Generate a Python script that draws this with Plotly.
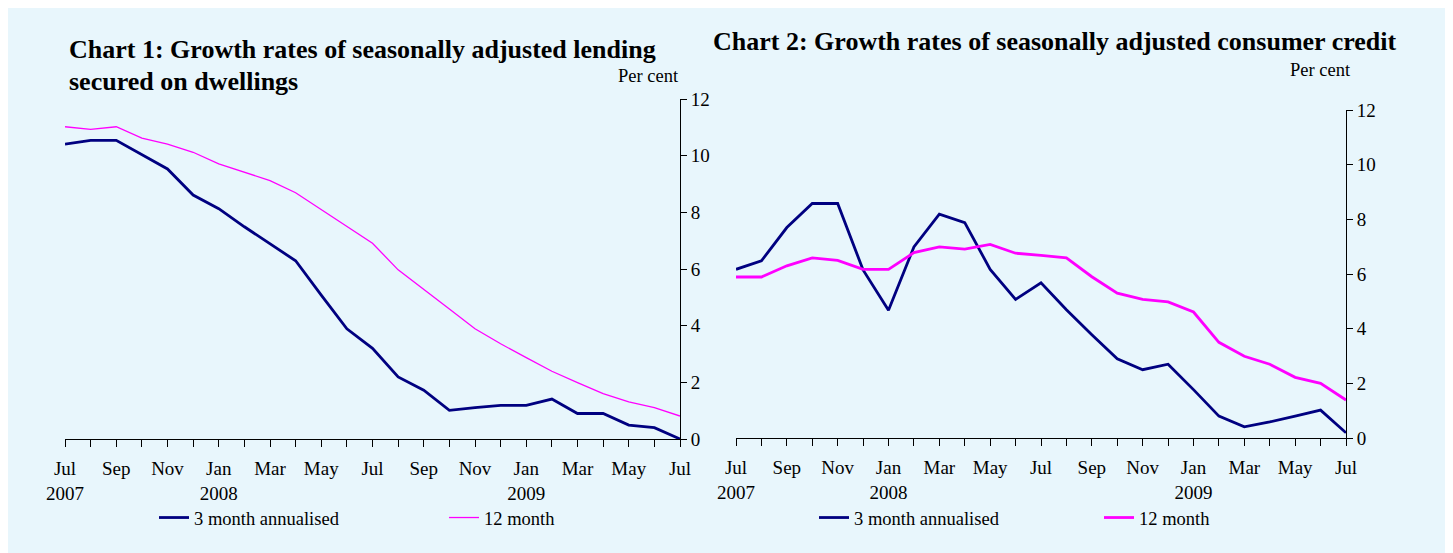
import plotly.graph_objects as go

months = list(range(25))  # Jul 2007 .. Jul 2009
tick_vals = [0, 2, 4, 6, 8, 10, 12, 14, 16, 18, 20, 22, 24]
tick_text = ["Jul<br>2007", "Sep", "Nov", "Jan<br>2008", "Mar", "May", "Jul",
             "Sep", "Nov", "Jan<br>2009", "Mar", "May", "Jul"]

# Chart 1: lending secured on dwellings
c1_3m = [10.41, 10.54, 10.54, 10.03, 9.53, 8.61, 8.13, 7.49, 6.90, 6.29, 5.08, 3.89, 3.20,
         2.19, 1.72, 1.01, 1.11, 1.19, 1.19, 1.41, 0.90, 0.90, 0.49, 0.40, 0.0]
c1_12m = [11.02, 10.93, 11.02, 10.62, 10.41, 10.12, 9.71, 9.41, 9.12, 8.69, 8.10, 7.52, 6.91,
          5.97, 5.29, 4.59, 3.89, 3.36, 2.87, 2.39, 1.99, 1.60, 1.31, 1.11, 0.81]

# Chart 2: consumer credit
c2_3m = [6.17, 6.48, 7.70, 8.58, 8.58, 6.15, 4.67, 6.99, 8.19, 7.88, 6.17, 5.07, 5.68,
         4.69, 3.78, 2.90, 2.50, 2.70, 1.77, 0.80, 0.41, 0.59, 0.80, 1.02, 0.19]
c2_12m = [5.89, 5.89, 6.30, 6.59, 6.50, 6.17, 6.17, 6.78, 6.99, 6.91, 7.08, 6.76, 6.68,
          6.59, 5.90, 5.30, 5.07, 4.98, 4.61, 3.50, 2.99, 2.70, 2.22, 2.00, 1.39]

NAVY = "#000080"
MAG = "#FF00FF"
BG = "#E8F6FC"
FONT = "Liberation Serif"
W, H = 1453, 553
OFF = 8  # page body margin offset in the browser

def px(p):
    return (p - OFF) / W

def py(p):
    return 1 - (p - OFF) / H

fig = go.Figure()
fig.add_trace(go.Scatter(x=months, y=c1_3m, mode="lines", name="3 month annualised",
                         line=dict(color=NAVY, width=2.8), xaxis="x", yaxis="y", legend="legend"))
fig.add_trace(go.Scatter(x=months, y=c1_12m, mode="lines", name="12 month",
                         line=dict(color=MAG, width=1.3), xaxis="x", yaxis="y", legend="legend"))
fig.add_trace(go.Scatter(x=months, y=c2_3m, mode="lines", name="3 month annualised",
                         line=dict(color=NAVY, width=2.8), xaxis="x2", yaxis="y2", legend="legend2"))
fig.add_trace(go.Scatter(x=months, y=c2_12m, mode="lines", name="12 month",
                         line=dict(color=MAG, width=2.8), xaxis="x2", yaxis="y2", legend="legend2"))

def xaxis(dom, anchor):
    return dict(domain=dom, anchor=anchor, range=[0, 24], tickmode="array",
                tickvals=tick_vals, ticktext=tick_text, ticks="outside", ticklen=7,
                tickcolor="black", showline=True, linecolor="black", linewidth=1,
                showgrid=False, zeroline=False, automargin=False, ticklabelstandoff=5,
                tickfont=dict(family=FONT, size=19, color="black"),
                minor=dict(ticks="outside", dtick=1, ticklen=7, tickcolor="black", showgrid=False),
                fixedrange=True)

def yaxis(dom, anchor):
    return dict(domain=dom, anchor=anchor, side="right", range=[0, 12], dtick=2,
                ticks="outside", ticklen=6, tickcolor="black", showline=True,
                linecolor="black", linewidth=1, showgrid=False, zeroline=False, automargin=False,
                tickfont=dict(family=FONT, size=19, color="black"), fixedrange=True)

leg_common = dict(orientation="h", xanchor="left", yanchor="middle", bgcolor="rgba(0,0,0,0)",
                  font=dict(family=FONT, size=18.5, color="black"), entrywidthmode="pixels",
                  itemwidth=30, tracegroupgap=0)

fig.update_layout(
    width=W, height=H, margin=dict(l=0, r=0, t=0, b=0, autoexpand=False),
    paper_bgcolor="white", plot_bgcolor="rgba(0,0,0,0)",
    font=dict(family=FONT, color="black"),
    xaxis=xaxis([px(65), px(680)], "y"),
    yaxis=yaxis([py(439), py(99)], "x"),
    xaxis2=xaxis([px(736), px(1346)], "y2"),
    yaxis2=yaxis([py(438), py(110)], "x2"),
    legend=dict(x=px(154), y=py(518), entrywidth=245, **leg_common),
    legend2=dict(x=px(814), y=py(518), entrywidth=240, **leg_common),
    shapes=[dict(type="rect", xref="paper", yref="paper", x0=0, x1=px(1447),
                 y0=0, y1=1, fillcolor=BG, line=dict(width=0), layer="below")],
    annotations=[
        dict(text="<b>Chart 1: Growth rates of seasonally adjusted lending</b>", x=px(67), y=py(50),
             xref="paper", yref="paper", xanchor="left", yanchor="middle", showarrow=False,
             font=dict(family=FONT, size=26, color="black")),
        dict(text="<b>secured on dwellings</b>", x=px(67), y=py(82),
             xref="paper", yref="paper", xanchor="left", yanchor="middle", showarrow=False,
             font=dict(family=FONT, size=26, color="black")),
        dict(text="<b>Chart 2: Growth rates of seasonally adjusted consumer credit</b>", x=px(711), y=py(42),
             xref="paper", yref="paper", xanchor="left", yanchor="middle", showarrow=False,
             font=dict(family=FONT, size=26, color="black")),
        dict(text="Per cent", x=px(681), y=py(76), xref="paper", yref="paper",
             xanchor="right", yanchor="middle", showarrow=False,
             font=dict(family=FONT, size=18.5, color="black")),
        dict(text="Per cent", x=px(1353), y=py(70), xref="paper", yref="paper",
             xanchor="right", yanchor="middle", showarrow=False,
             font=dict(family=FONT, size=18.5, color="black")),
    ],
)

fig.write_html("out.html")
